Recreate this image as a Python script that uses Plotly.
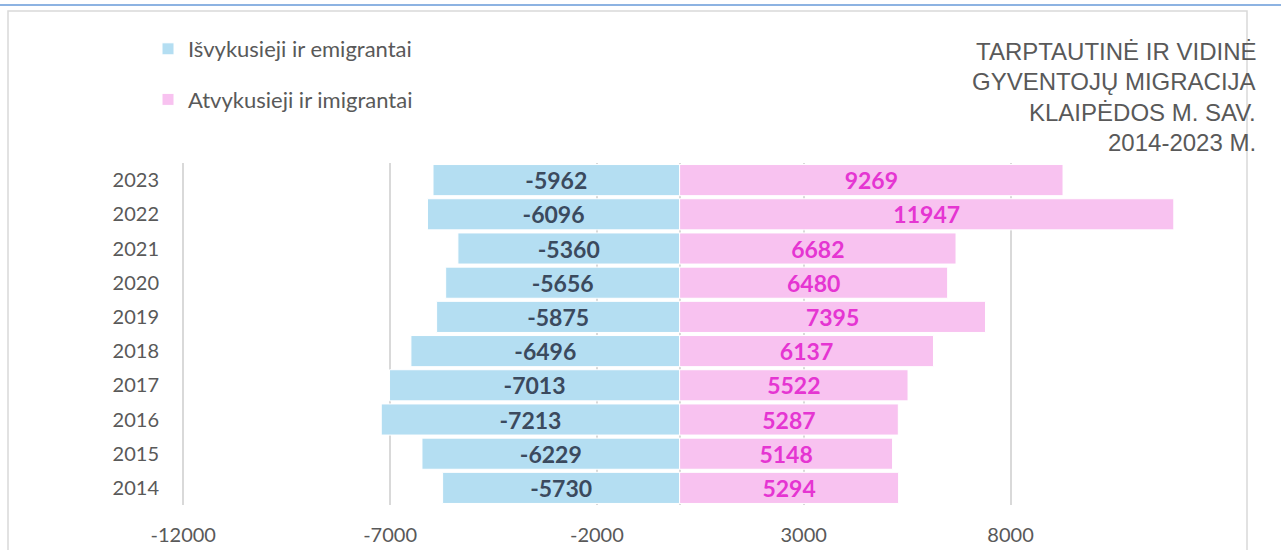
import plotly.graph_objects as go

# ---- data ----
years = ["2014", "2015", "2016", "2017", "2018", "2019", "2020", "2021", "2022", "2023"]
departed = [-5730, -6229, -7213, -7013, -6496, -5875, -5656, -5360, -6096, -5962]
arrived = [5294, 5148, 5287, 5522, 6137, 7395, 6480, 6682, 11947, 9269]
series_names = ["Išvykusieji ir emigrantai", "Atvykusieji ir imigrantai"]
title_lines = ["TARPTAUTINĖ IR VIDINĖ", "GYVENTOJŲ MIGRACIJA", "KLAIPĖDOS M. SAV.", "2014-2023 M."]
x_ticks = [-12000, -7000, -2000, 3000, 8000]

W, H = 1281, 550
ML, MR, MT, MB = 182, 105, 163, 45
PW, PH = W - ML - MR, H - MT - MB

def px_x(p):
    return (p - ML) / PW

def px_y(p):
    return (H - MB - p) / PH

BLUE = "#B4DEF2"
PINK = "#F8C2F0"
DARK = "#3B4A5E"
MAGENTA = "#E535D2"
GRAY = "#595959"
FONT = "Lato"

fig = go.Figure()
fig.add_trace(go.Bar(
    y=years, x=departed, orientation="h", name=series_names[0],
    marker=dict(color=BLUE, line=dict(color="white", width=1)),
    text=[str(v) for v in departed], textposition="inside", insidetextanchor="middle",
    constraintext="none",
    textfont=dict(family=FONT, size=23, color=DARK, weight="bold"),
    legendgroup="a",
))
fig.add_trace(go.Bar(
    y=years, x=arrived, orientation="h", name=series_names[1],
    marker=dict(color=PINK, line=dict(color="white", width=1)),
    text=[str(v) for v in arrived], textposition="inside", insidetextanchor="middle",
    constraintext="none",
    textfont=dict(family=FONT, size=23, color=MAGENTA, weight="bold"),
    legendgroup="b",
))

annotations = []
title_y = [51, 81.5, 112, 142]
for line, yy in zip(title_lines, title_y):
    annotations.append(dict(
        text=line, xref="paper", yref="paper", x=px_x(1258), y=px_y(yy),
        xanchor="right", yanchor="middle", showarrow=False,
        font=dict(family="Liberation Sans", size=24, color=GRAY),
    ))

shapes = [
    dict(type="line", xref="paper", yref="paper", x0=px_x(0), x1=px_x(W), y0=px_y(5), y1=px_y(5),
         line=dict(color="#8DB3E2", width=2), layer="below"),
    dict(type="rect", xref="paper", yref="paper", x0=px_x(8), x1=px_x(1247), y0=px_y(570), y1=px_y(11),
         line=dict(color="#D9D9D9", width=1.5), layer="below"),
]

fig.update_layout(
    width=W, height=H,
    margin=dict(l=ML, r=MR, t=MT, b=MB, autoexpand=False),
    paper_bgcolor="white", plot_bgcolor="white",
    barmode="relative", bargap=0.09,
    font=dict(family=FONT, color=GRAY),
    showlegend=True,
    legend=dict(
        xref="container", yref="container", x=148 / W, y=1 - 28 / H,
        xanchor="left", yanchor="top", traceorder="grouped", tracegroupgap=19,
        font=dict(family=FONT, size=22, color=GRAY), bgcolor="rgba(0,0,0,0)",
        itemwidth=30,
    ),
    xaxis=dict(
        range=[-12030, 12000], tickmode="array", tickvals=x_ticks,
        ticktext=[str(v) for v in x_ticks],
        showgrid=True, gridcolor="#D9D9D9", gridwidth=1.5,
        zeroline=True, zerolinecolor="#D9D9D9", zerolinewidth=1.5,
        showline=False, ticks="", ticklabelstandoff=16,
        tickfont=dict(family=FONT, size=20, color=GRAY), fixedrange=True,
    ),
    yaxis=dict(
        type="category", categoryorder="array", categoryarray=years,
        showgrid=False, showline=False, ticks="", ticklabelstandoff=22,
        tickfont=dict(family=FONT, size=20, color=GRAY), fixedrange=True,
    ),
    annotations=annotations,
    shapes=shapes,
)

fig.write_html(
    "out.html",
    config={"displayModeBar": False},
    post_script="document.body.style.margin='0';document.body.style.padding='0';",
)
